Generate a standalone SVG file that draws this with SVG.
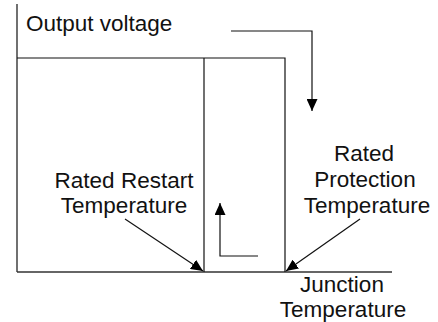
<svg xmlns="http://www.w3.org/2000/svg" width="438" height="322" viewBox="0 0 438 322">
<defs>
<style>
.ln{stroke:#111;stroke-width:1.2;fill:none}
.ax{stroke:#333;stroke-width:1.6;fill:none}
.t{font-family:"Liberation Sans",Arial,sans-serif;font-size:22.5px;fill:#111}
.c{text-anchor:middle}
</style>
<marker id="ah" viewBox="0 0 12 11" refX="12" refY="5.5" markerWidth="12" markerHeight="11" markerUnits="userSpaceOnUse" orient="auto">
<path d="M0,0 L12,5.5 L0,11 Z" fill="#000"/>
</marker>
</defs>
<rect width="438" height="322" fill="#fff"/>
<g id="axes">
<line class="ln" x1="17" y1="4" x2="17" y2="272"/>
<line class="ax" x1="17" y1="272" x2="392" y2="272"/>
</g>
<g id="output-curve">
<polyline class="ln" points="17,58 285,58 285,272"/>
<line class="ln" x1="204" y1="58" x2="204" y2="272"/>
</g>
<g id="output-voltage"><text class="t" x="26" y="31">Output voltage</text></g>
<g id="rated-restart"><text class="t c" x="124" y="188">Rated Restart</text><text class="t c" x="124" y="213">Temperature</text></g>
<g id="rated-protection"><text class="t c" x="364" y="161">Rated</text><text class="t c" x="365" y="187">Protection</text><text class="t c" x="367" y="213">Temperature</text></g>
<g id="junction"><text class="t c" x="342" y="292">Junction</text><text class="t c" x="343" y="317">Temperature</text></g>
<g id="connectors">
<polyline class="ln" points="231,31 312,31 312,111" marker-end="url(#ah)"/>
<polyline class="ln" points="258,256 220,256 220,203" marker-end="url(#ah)"/>
<line class="ln" x1="125" y1="219" x2="203" y2="271" marker-end="url(#ah)"/>
<line class="ln" x1="360" y1="219" x2="286" y2="271" marker-end="url(#ah)"/>
</g>
</svg>
